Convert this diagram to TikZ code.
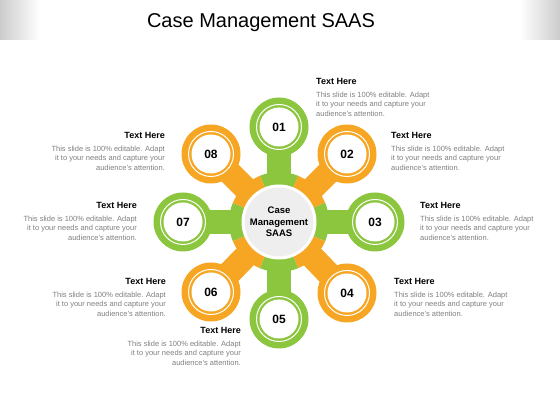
\documentclass[tikz,border=0pt]{standalone}
\usepackage{fontspec}
\setmainfont{Liberation Sans}
\usetikzlibrary{positioning,calc,backgrounds}

\definecolor{leafgreen}{HTML}{8CC63F}
\definecolor{amber}{HTML}{F6A623}
\definecolor{txtgray}{HTML}{7F7F7F}

\begin{document}
\begin{tikzpicture}[x=1pt,y=1pt,
	sat/.style={circle, minimum size=59pt, inner sep=0pt, font=\bfseries\fontsize{12}{14}\selectfont,
		path picture={\draw[white,line width=1pt] (path picture bounding box.center) circle[radius=22.5pt];
			\fill[white] (path picture bounding box.center) circle[radius=19.5pt];}},
	spoke/.style={line width=24pt},
	head/.style={inner sep=0pt, font=\bfseries\fontsize{9}{11}\selectfont},
	body/.style={inner sep=0pt, text=txtgray, font=\fontsize{7.5}{9.6}\selectfont}]
				\useasboundingbox (0,0) rectangle (560,420);
				% top band
				\shade[left color=gray!40, right color=white] (0,380) rectangle (40,420);
				\shade[left color=white, right color=gray!40] (520,380) rectangle (560,420);
				\node[anchor=base, font=\fontsize{20}{24}\selectfont] (title) at (261,392) {Case Management SAAS};
				\coordinate (C) at (279,198);
				% satellites
				\node[sat, fill=leafgreen] (s1) at (279,293) {01};
				\node[sat, fill=amber] (s2) at (347,266) {02};
				\node[sat, fill=leafgreen] (s3) at (375,198) {03};
				\node[sat, fill=amber] (s4) at (347,127) {04};
				\node[sat, fill=leafgreen] (s5) at (279,101) {05};
				\node[sat, fill=amber] (s6) at (211,128) {06};
				\node[sat, fill=leafgreen] (s7) at (183,198) {07};
				\node[sat, fill=amber] (s8) at (211,266) {08};
				% spokes and ring, behind everything
				\begin{pgfonlayer}{background}
				\draw[spoke, leafgreen] (C) -- (s1.center);
				\draw[spoke, amber] (C) -- (s2.center);
				\draw[spoke, leafgreen] (C) -- (s3.center);
				\draw[spoke, amber] (C) -- (s4.center);
				\draw[spoke, leafgreen] (C) -- (s5.center);
				\draw[spoke, amber] (C) -- (s6.center);
				\draw[spoke, leafgreen] (C) -- (s7.center);
				\draw[spoke, amber] (C) -- (s8.center);
				\fill[leafgreen] (C) -- ++(67.5:50) arc[start angle=67.5, end angle=112.5, radius=50] -- cycle;
				\fill[amber] (C) -- ++(22.5:50) arc[start angle=22.5, end angle=67.5, radius=50] -- cycle;
				\fill[leafgreen] (C) -- ++(-22.5:50) arc[start angle=-22.5, end angle=22.5, radius=50] -- cycle;
				\fill[amber] (C) -- ++(-67.5:50) arc[start angle=-67.5, end angle=-22.5, radius=50] -- cycle;
				\fill[leafgreen] (C) -- ++(-112.5:50) arc[start angle=-112.5, end angle=-67.5, radius=50] -- cycle;
				\fill[amber] (C) -- ++(-157.5:50) arc[start angle=-157.5, end angle=-112.5, radius=50] -- cycle;
				\fill[leafgreen] (C) -- ++(157.5:50) arc[start angle=157.5, end angle=202.5, radius=50] -- cycle;
				\fill[amber] (C) -- ++(112.5:50) arc[start angle=112.5, end angle=157.5, radius=50] -- cycle;
				\end{pgfonlayer}
				\node[circle, fill=gray!13, draw=white, line width=3pt, minimum size=72pt, inner sep=0pt,
					align=center, font=\bfseries\fontsize{9.5}{11.3}\selectfont] (hub) at (C) {Case\\Management\\SAAS};
				% text blocks
				\node[head, anchor=base west] (h1) at (316,335) {Text Here};
				\node[body, anchor=north west, align=left] (t1) at ([yshift=-6.6pt]h1.base west) {This slide is 100\% editable. Adapt\\it to your needs and capture your\\audience's attention.};
				\node[head, anchor=base west] (h2) at (391,281) {Text Here};
				\node[body, anchor=north west, align=left] (t2) at ([yshift=-6.6pt]h2.base west) {This slide is 100\% editable. Adapt\\it to your needs and capture your\\audience's attention.};
				\node[head, anchor=base west] (h3) at (420,211) {Text Here};
				\node[body, anchor=north west, align=left] (t3) at ([yshift=-6.6pt]h3.base west) {This slide is 100\% editable. Adapt\\it to your needs and capture your\\audience's attention.};
				\node[head, anchor=base west] (h4) at (394,135) {Text Here};
				\node[body, anchor=north west, align=left] (t4) at ([yshift=-6.6pt]h4.base west) {This slide is 100\% editable. Adapt\\it to your needs and capture your\\audience's attention.};
				\node[head, anchor=base east] (h5) at (241,86) {Text Here};
				\node[body, anchor=north east, align=right] (t5) at ([yshift=-6.6pt]h5.base east) {This slide is 100\% editable. Adapt\\it to your needs and capture your\\audience's attention.};
				\node[head, anchor=base east] (h6) at (166,135) {Text Here};
				\node[body, anchor=north east, align=right] (t6) at ([yshift=-6.6pt]h6.base east) {This slide is 100\% editable. Adapt\\it to your needs and capture your\\audience's attention.};
				\node[head, anchor=base east] (h7) at (137,211) {Text Here};
				\node[body, anchor=north east, align=right] (t7) at ([yshift=-6.6pt]h7.base east) {This slide is 100\% editable. Adapt\\it to your needs and capture your\\audience's attention.};
				\node[head, anchor=base east] (h8) at (165,281) {Text Here};
				\node[body, anchor=north east, align=right] (t8) at ([yshift=-6.6pt]h8.base east) {This slide is 100\% editable. Adapt\\it to your needs and capture your\\audience's attention.};
				\end{tikzpicture}
\end{document}
